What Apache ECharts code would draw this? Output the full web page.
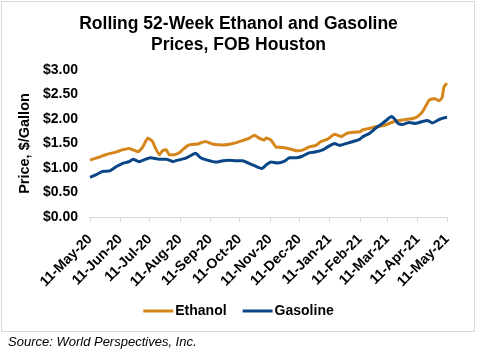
<!DOCTYPE html>
<html>
<head>
<meta charset="utf-8">
<script src="https://cdn.jsdelivr.net/npm/echarts@6/dist/echarts.min.js"></script>
<style>
html,body{margin:0;padding:0;background:#fff;}
#chart{width:477px;height:352px;}
</style>
</head>
<body>
<div id="chart"></div>
<script>
// ---- Data ----
const ethanolDates = ['2020-05-11','2020-05-20','2020-05-27','2020-06-07','2020-06-13','2020-06-20','2020-06-29','2020-07-04','2020-07-09','2020-07-14','2020-07-17','2020-07-21','2020-07-24','2020-07-28','2020-07-31','2020-08-05','2020-08-11','2020-08-14','2020-08-20','2020-08-29','2020-09-06','2020-09-13','2020-09-24','2020-10-04','2020-10-14','2020-10-21','2020-10-26','2020-10-31','2020-11-05','2020-11-07','2020-11-12','2020-11-17','2020-11-22','2020-11-27','2020-12-03','2020-12-09','2020-12-15','2020-12-21','2020-12-28','2021-01-02','2021-01-09','2021-01-16','2021-01-23','2021-01-29','2021-02-05','2021-02-11','2021-02-14','2021-02-21','2021-02-27','2021-03-06','2021-03-13','2021-03-18','2021-03-23','2021-03-30','2021-04-06','2021-04-11','2021-04-16','2021-04-20','2021-04-23','2021-04-28','2021-05-03','2021-05-06','2021-05-08','2021-05-11'];
const ethanolValues = [1.16,1.22,1.27,1.33,1.37,1.40,1.33,1.43,1.61,1.54,1.40,1.27,1.35,1.37,1.27,1.27,1.32,1.38,1.47,1.49,1.54,1.49,1.47,1.50,1.56,1.61,1.67,1.61,1.57,1.61,1.57,1.43,1.42,1.41,1.38,1.35,1.37,1.43,1.46,1.54,1.59,1.69,1.64,1.71,1.73,1.74,1.78,1.81,1.84,1.86,1.91,1.95,1.97,1.99,2.01,2.05,2.15,2.29,2.39,2.42,2.37,2.44,2.66,2.73];

const gasolineDates = ['2020-05-11','2020-05-17','2020-05-24','2020-05-31','2020-06-07','2020-06-13','2020-06-20','2020-06-24','2020-06-30','2020-07-07','2020-07-12','2020-07-21','2020-07-28','2020-08-04','2020-08-07','2020-08-11','2020-08-17','2020-08-27','2020-09-01','2020-09-08','2020-09-17','2020-09-24','2020-09-30','2020-10-07','2020-10-14','2020-10-21','2020-10-28','2020-11-03','2020-11-07','2020-11-12','2020-11-19','2020-11-26','2020-12-01','2020-12-08','2020-12-14','2020-12-21','2020-12-28','2021-01-04','2021-01-09','2021-01-16','2021-01-21','2021-01-28','2021-02-04','2021-02-11','2021-02-14','2021-02-21','2021-02-27','2021-03-06','2021-03-11','2021-03-15','2021-03-18','2021-03-22','2021-03-27','2021-04-02','2021-04-09','2021-04-16','2021-04-21','2021-04-26','2021-05-03','2021-05-10','2021-05-11'];
const gasolineValues = [0.81,0.86,0.93,0.94,1.03,1.09,1.13,1.18,1.13,1.18,1.21,1.18,1.18,1.13,1.15,1.17,1.20,1.30,1.21,1.16,1.12,1.15,1.16,1.15,1.15,1.09,1.03,0.99,1.06,1.12,1.10,1.14,1.21,1.21,1.24,1.31,1.33,1.37,1.43,1.50,1.46,1.50,1.54,1.59,1.64,1.71,1.81,1.91,1.99,2.05,2.01,1.91,1.89,1.93,1.91,1.95,1.97,1.92,1.99,2.03,2.03];

const tickDates = ['2020-05-11','2020-06-11','2020-07-11','2020-08-11','2020-09-11','2020-10-11','2020-11-11','2020-12-11','2021-01-11','2021-02-11','2021-03-11','2021-04-11','2021-05-11'];
const tickLabels = ['11-May-20','11-Jun-20','11-Jul-20','11-Aug-20','11-Sep-20','11-Oct-20','11-Nov-20','11-Dec-20','11-Jan-21','11-Feb-21','11-Mar-21','11-Apr-21','11-May-21'];

const yTicks = [0, 0.5, 1, 1.5, 2, 2.5, 3];

const seriesNames = ['Ethanol', 'Gasoline'];
const titleText = 'Rolling 52-Week Ethanol and Gasoline\nPrices, FOB Houston';
const yAxisName = 'Price, $/Gallon';
const sourceText = 'Source: World Perspectives, Inc.';

// ---- Helpers ----
function parseDay(s) {
  const p = s.split('-').map(Number);
  return Date.UTC(p[0], p[1] - 1, p[2]) / 86400000; // day number
}
const tickTimes = tickDates.map(parseDay);
function pairs(dates, vals) { return dates.map((d, i) => [parseDay(d), vals[i]]); }

const FONT = 'Liberation Sans, Arial, sans-serif';
const chart = echarts.init(document.getElementById('chart'), null, {renderer: 'canvas'});

chart.setOption({
  animation: false,
  backgroundColor: '#fff',
  title: {
    text: titleText,
    left: 'center',
    top: 9,
    textStyle: {fontFamily: FONT, fontSize: 17.5, fontWeight: 'bold', color: '#000', lineHeight: 21}
  },
  grid: {left: 90, right: 30, top: 70, bottom: 135, containLabel: false},
  legend: {
    data: seriesNames,
    left: 'center',
    top: 299,
    icon: 'rect',
    itemWidth: 30,
    itemHeight: 3,
    itemGap: 16,
    textStyle: {fontFamily: FONT, fontSize: 14, fontWeight: 'bold', color: '#000', padding: [0, 0, 0, -3]}
  },
  xAxis: {
    type: 'value',
    min: tickTimes[0],
    max: tickTimes[tickTimes.length - 1],
    axisLine: {show: true, lineStyle: {color: '#d9d9d9', width: 1}},
    axisTick: {show: true, customValues: tickTimes, length: 5, lineStyle: {color: '#d9d9d9'}},
    splitLine: {show: false},
    axisLabel: {
      customValues: tickTimes,
      rotate: 45,
      margin: 20,
      fontFamily: FONT,
      fontSize: 14,
      fontWeight: 'bold',
      color: '#000',
      formatter: function (v) {
        let best = 0, bd = Infinity;
        tickTimes.forEach((t, i) => { const d = Math.abs(t - v); if (d < bd) { bd = d; best = i; } });
        return tickLabels[best];
      }
    }
  },
  yAxis: {
    type: 'value',
    min: yTicks[0],
    max: yTicks[yTicks.length - 1],
    interval: 0.5,
    name: yAxisName,
    nameLocation: 'middle',
    nameGap: 58,
    nameTextStyle: {fontFamily: FONT, fontSize: 14.5, fontWeight: 'bold', color: '#000'},
    axisLine: {show: false},
    axisTick: {show: false},
    splitLine: {show: false},
    axisLabel: {
      fontFamily: FONT, fontSize: 14, fontWeight: 'bold', color: '#000', margin: 12,
      formatter: v => '$' + v.toFixed(2)
    }
  },
  series: [
    {name: seriesNames[0], type: 'line', data: pairs(ethanolDates, ethanolValues), symbol: 'none', smooth: 0.15,
     lineStyle: {color: '#D5861A', width: 3}, itemStyle: {color: '#D5861A'}},
    {name: seriesNames[1], type: 'line', data: pairs(gasolineDates, gasolineValues), symbol: 'none', smooth: 0.15,
     lineStyle: {color: '#0A4587', width: 3}, itemStyle: {color: '#0A4587'}}
  ],
  graphic: [
    {type: 'rect', shape: {x: 1.5, y: 1.5, width: 473, height: 330}, style: {fill: 'none', stroke: '#d9d9d9', lineWidth: 1}, silent: true},
    {type: 'text', left: 8, top: 336, style: {text: sourceText, font: 'italic 13px ' + FONT, fill: '#000'}}
  ]
});
</script>
</body>
</html>
